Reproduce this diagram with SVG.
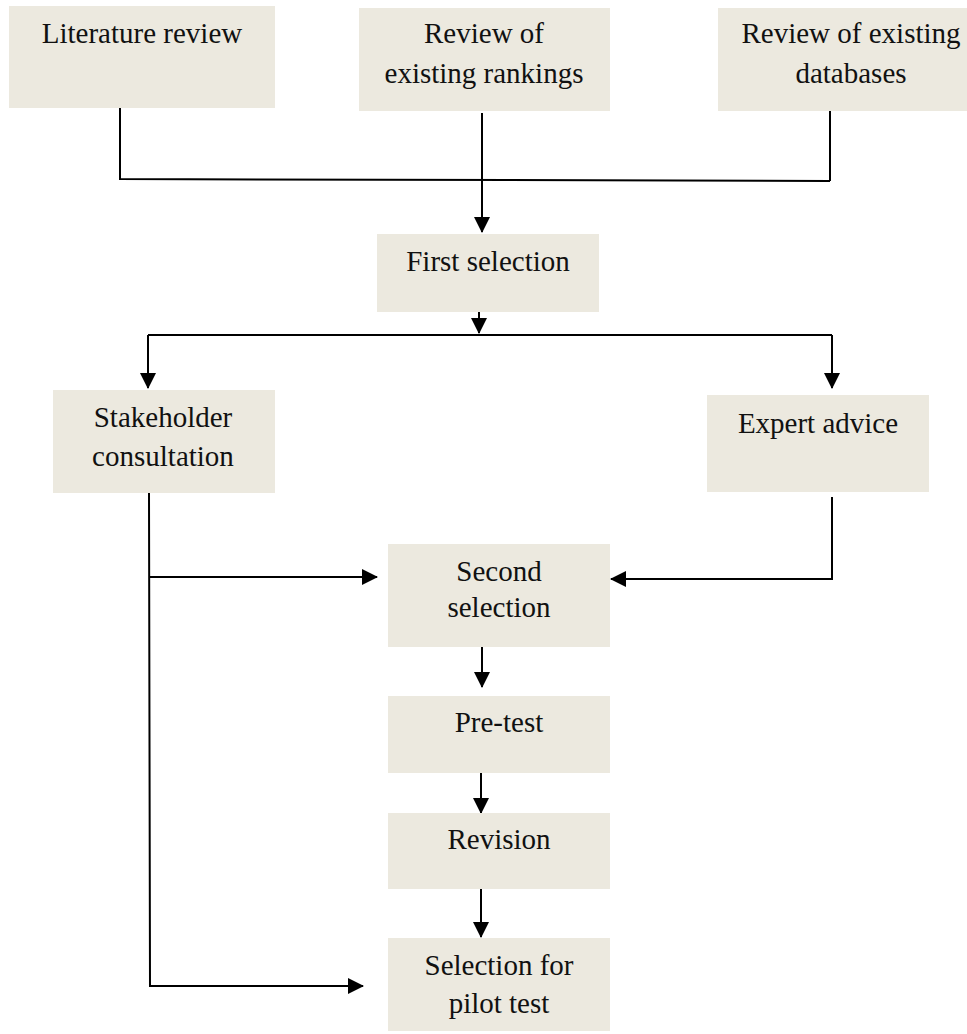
<svg xmlns="http://www.w3.org/2000/svg" width="967" height="1034" viewBox="0 0 967 1034">
  <style>
    .box { fill: #ECE9DF; }
    .lbl { font-family: 'Liberation Serif', 'DejaVu Serif', serif; font-size: 29px; fill: #111; text-anchor: middle; }
    .wire { fill: none; stroke: #000; stroke-width: 2; }
  </style>
  <defs>
    <marker id="arrow" viewBox="0 0 16 16" refX="15" refY="8" markerWidth="16" markerHeight="16" markerUnits="userSpaceOnUse" orient="auto">
      <path d="M0,0 L16,8 L0,16 z" fill="#000"/>
    </marker>
  </defs>

  <rect width="967" height="1034" fill="#fff"/>

  <!-- Connectors -->
  <g id="connectors">
    <!-- sources merge into first selection -->
    <path class="wire" d="M120,108 V179 L830,181"/>
    <path class="wire" d="M830,111 V181"/>
    <path class="wire" d="M482,113 V232" marker-end="url(#arrow)"/>
    <!-- first selection splits -->
    <path class="wire" d="M479,312 V333" marker-end="url(#arrow)"/>
    <path class="wire" d="M148,335 H832"/>
    <path class="wire" d="M148,335 V388" marker-end="url(#arrow)"/>
    <path class="wire" d="M832,335 V388" marker-end="url(#arrow)"/>
    <!-- expert advice to second selection -->
    <path class="wire" d="M832,497 V579 H611" marker-end="url(#arrow)"/>
    <!-- stakeholder feed -->
    <path class="wire" d="M149,493 L150,986 H363" marker-end="url(#arrow)"/>
    <path class="wire" d="M149,577 H377" marker-end="url(#arrow)"/>
    <!-- main chain -->
    <path class="wire" d="M482,647 V687" marker-end="url(#arrow)"/>
    <path class="wire" d="M481,773 V813" marker-end="url(#arrow)"/>
    <path class="wire" d="M481,888 V937" marker-end="url(#arrow)"/>
  </g>

  <g id="literature-review">
    <rect class="box" x="9" y="6" width="266" height="102"/>
    <text class="lbl" font-family="Liberation Serif" x="142" y="43">Literature review</text>
  </g>

  <g id="review-rankings">
    <rect class="box" x="359" y="8" width="251" height="103"/>
    <text class="lbl" font-family="Liberation Serif" x="484" y="43">Review of</text>
    <text class="lbl" font-family="Liberation Serif" x="484" y="83">existing rankings</text>
  </g>

  <g id="review-databases">
    <rect class="box" x="718" y="8" width="267" height="103"/>
    <text class="lbl" font-family="Liberation Serif" x="851" y="43">Review of existing</text>
    <text class="lbl" font-family="Liberation Serif" x="851" y="83">databases</text>
  </g>

  <g id="first-selection">
    <rect class="box" x="377" y="234" width="222" height="78"/>
    <text class="lbl" font-family="Liberation Serif" x="488" y="271">First selection</text>
  </g>

  <g id="stakeholder-consultation">
    <rect class="box" x="53" y="390" width="222" height="103"/>
    <text class="lbl" font-family="Liberation Serif" x="163" y="427">Stakeholder</text>
    <text class="lbl" font-family="Liberation Serif" x="163" y="466">consultation</text>
  </g>

  <g id="expert-advice">
    <rect class="box" x="707" y="395" width="222" height="97"/>
    <text class="lbl" font-family="Liberation Serif" x="818" y="433">Expert advice</text>
  </g>

  <g id="second-selection">
    <rect class="box" x="388" y="544" width="222" height="103"/>
    <text class="lbl" font-family="Liberation Serif" x="499" y="581">Second</text>
    <text class="lbl" font-family="Liberation Serif" x="499" y="617">selection</text>
  </g>

  <g id="pre-test">
    <rect class="box" x="388" y="696" width="222" height="77"/>
    <text class="lbl" font-family="Liberation Serif" x="499" y="732">Pre-test</text>
  </g>

  <g id="revision">
    <rect class="box" x="388" y="813" width="222" height="76"/>
    <text class="lbl" font-family="Liberation Serif" x="499" y="849">Revision</text>
  </g>

  <g id="selection-pilot-test">
    <rect class="box" x="388" y="938" width="222" height="93"/>
    <text class="lbl" font-family="Liberation Serif" x="499" y="975">Selection for</text>
    <text class="lbl" font-family="Liberation Serif" x="499" y="1013">pilot test</text>
  </g>
</svg>
